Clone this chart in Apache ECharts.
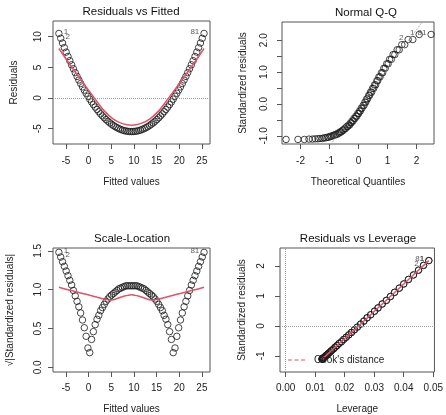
<!DOCTYPE html>
<html>
<head>
<meta charset="utf-8">
<script src="https://cdn.jsdelivr.net/npm/echarts@6/dist/echarts.min.js"></script>
<style>
html, body { margin: 0; padding: 0; background: #fff; }
#main { width: 446px; height: 415px; }
</style>
</head>
<body>
<div id="main"></div>
<script>
var fittedVals = [
  -6.53,-6.13,-5.73,-5.33,-4.93,-4.53,-4.13,-3.73,-3.33,-2.93,
  -2.53,-2.13,-1.73,-1.33,-0.93,-0.53,-0.13,0.27,0.67,1.07,
  1.47,1.87,2.27,2.67,3.07,3.47,3.87,4.27,4.67,5.07,
  5.47,5.87,6.27,6.67,7.07,7.47,7.87,8.27,8.67,9.07,
  9.47,
  9.87,10.27,10.67,11.07,11.47,11.87,12.27,12.67,13.07,13.47,
  13.87,14.27,14.67,15.07,15.47,15.87,16.27,16.67,17.07,17.47,
  17.87,18.27,18.67,19.07,19.47,19.87,20.27,20.67,21.07,21.47,
  21.87,22.27,22.67,23.07,23.47,23.87,24.27,24.67,25.07,25.47
];
var residVals = [
  10.53,9.74,8.97,8.22,7.49,6.78,6.09,5.42,4.77,4.14,
  3.53,2.94,2.37,1.82,1.29,0.78,0.29,-0.18,-0.63,-1.06,
  -1.47,-1.86,-2.23,-2.58,-2.91,-3.22,-3.51,-3.78,-4.03,-4.26,
  -4.47,-4.66,-4.83,-4.98,-5.11,-5.22,-5.31,-5.38,-5.43,-5.46,
  -5.47,
  -5.46,-5.43,-5.38,-5.31,-5.22,-5.11,-4.98,-4.83,-4.66,-4.47,
  -4.26,-4.03,-3.78,-3.51,-3.22,-2.91,-2.58,-2.23,-1.86,-1.47,
  -1.06,-0.63,-0.18,0.29,0.78,1.29,1.82,2.37,2.94,3.53,
  4.14,4.77,5.42,6.09,6.78,7.49,8.22,8.97,9.74,10.53
];
var stdResVals = [
  2.18,2.02,1.86,1.70,1.55,1.40,1.26,1.12,0.98,0.85,
  0.73,0.60,0.49,0.37,0.27,0.16,0.06,-0.04,-0.13,-0.22,
  -0.30,-0.38,-0.45,-0.53,-0.59,-0.66,-0.71,-0.77,-0.82,-0.87,
  -0.91,-0.95,-0.98,-1.01,-1.04,-1.06,-1.08,-1.09,-1.10,-1.11,
  -1.11,
  -1.11,-1.10,-1.09,-1.08,-1.06,-1.04,-1.01,-0.98,-0.95,-0.91,
  -0.87,-0.82,-0.77,-0.71,-0.66,-0.59,-0.53,-0.45,-0.38,-0.30,
  -0.22,-0.13,-0.04,0.06,0.16,0.27,0.37,0.49,0.60,0.73,
  0.85,0.98,1.12,1.26,1.40,1.55,1.70,1.86,2.02,2.18
];
var sqrtAbsStdRes = [
  1.48,1.42,1.36,1.30,1.24,1.18,1.12,1.06,0.99,0.92,
  0.85,0.78,0.70,0.61,0.51,0.40,0.25,0.19,0.36,0.46,
  0.55,0.62,0.67,0.73,0.77,0.81,0.85,0.88,0.91,0.93,
  0.95,0.97,0.99,1.01,1.02,1.03,1.04,1.05,1.05,1.05,
  1.05,
  1.05,1.05,1.05,1.04,1.03,1.02,1.01,0.99,0.97,0.95,
  0.93,0.91,0.88,0.85,0.81,0.77,0.73,0.67,0.62,0.55,
  0.46,0.36,0.19,0.25,0.40,0.51,0.61,0.70,0.78,0.85,
  0.92,0.99,1.06,1.12,1.18,1.24,1.30,1.36,1.42,1.48
];
var leverageVals = [
  0.0485,0.0467,0.0450,0.0433,0.0416,0.0400,0.0385,0.0369,0.0355,0.0341,
  0.0327,0.0313,0.0301,0.0288,0.0276,0.0265,0.0254,0.0243,0.0233,0.0223,
  0.0214,0.0205,0.0197,0.0189,0.0181,0.0174,0.0168,0.0162,0.0156,0.0151,
  0.0146,0.0142,0.0138,0.0135,0.0132,0.0129,0.0127,0.0126,0.0124,0.0124,
  0.0123,
  0.0124,0.0124,0.0126,0.0127,0.0129,0.0132,0.0135,0.0138,0.0142,0.0146,
  0.0151,0.0156,0.0162,0.0168,0.0174,0.0181,0.0189,0.0197,0.0205,0.0214,
  0.0223,0.0233,0.0243,0.0254,0.0265,0.0276,0.0288,0.0301,0.0313,0.0327,
  0.0341,0.0355,0.0369,0.0385,0.0400,0.0416,0.0433,0.0450,0.0467,0.0485
];
var qqTheoretical = [
  -2.50,-2.09,-1.87,-1.71,-1.59,-1.49,-1.40,-1.33,-1.25,-1.19,
  -1.13,-1.07,-1.02,-0.97,-0.92,-0.87,-0.83,-0.79,-0.74,-0.70,
  -0.66,-0.63,-0.59,-0.55,-0.52,-0.48,-0.45,-0.41,-0.38,-0.35,
  -0.31,-0.28,-0.25,-0.22,-0.19,-0.16,-0.12,-0.09,-0.06,-0.03,
  0.00,
  0.03,0.06,0.09,0.12,0.16,0.19,0.22,0.25,0.28,0.31,
  0.35,0.38,0.41,0.45,0.48,0.52,0.55,0.59,0.63,0.66,
  0.70,0.74,0.79,0.83,0.87,0.92,0.97,1.02,1.07,1.13,
  1.19,1.25,1.33,1.40,1.49,1.59,1.71,1.87,2.09,2.50
];
var qqSample = [
  -1.11,-1.11,-1.11,-1.10,-1.10,-1.09,-1.09,-1.08,-1.08,-1.06,
  -1.06,-1.04,-1.04,-1.01,-1.01,-0.98,-0.98,-0.95,-0.95,-0.91,
  -0.91,-0.87,-0.87,-0.82,-0.82,-0.77,-0.77,-0.71,-0.71,-0.66,
  -0.66,-0.59,-0.59,-0.53,-0.53,-0.45,-0.45,-0.38,-0.38,-0.30,
  -0.30,
  -0.22,-0.22,-0.13,-0.13,-0.04,-0.04,0.06,0.06,0.16,0.16,
  0.27,0.27,0.37,0.37,0.49,0.49,0.60,0.60,0.73,0.73,
  0.85,0.85,0.98,0.98,1.12,1.12,1.26,1.26,1.40,1.40,
  1.55,1.55,1.70,1.70,1.86,1.86,2.02,2.02,2.18,2.18
];
// qq reference line (end points in data units)
var qqLineX = [-2.64, 2.60];
var qqLineY = [-3.30, 3.06];

// red smoothers
var smoothFitX = [-6.53,-4.53,-2.53,-0.53,1.47,3.47,5.47,7.47,9.47,11.47,13.47,15.47,17.47,19.47,21.47,23.47,25.47];
var smoothFitY = [8.08,5.92,3.84,1.81,-0.17,-2.09,-3.42,-4.17,-4.42,-4.17,-3.42,-2.09,-0.17,1.81,3.84,5.92,8.08];
var smoothSlX = [-6.53,-4.53,-2.53,-0.53,1.47,3.47,4.67,5.47,7.47,9.47,11.47,13.47,14.27,15.47,17.47,19.47,21.47,23.47,25.47];
var smoothSlY = [1.03,1.00,0.97,0.94,0.91,0.88,0.865,0.87,0.91,0.935,0.91,0.87,0.865,0.88,0.91,0.94,0.97,1.00,1.03];
var smoothLevX = [0.0123,0.0146,0.0181,0.0214,0.0265,0.0327,0.0400,0.0485];
var smoothLevY = [-1.11,-0.91,-0.59,-0.30,0.16,0.73,1.40,2.18];

// labelled observations (index into the arrays), text, side
var idObs = [0, 1, 80];
var idText = ['1', '2', '81'];
var idSide = ['right', 'right', 'left'];
var qqIdIdx = [77, 79, 80];
var qqIdText = ['2', '1', '81'];
var levIdObs = [1, 0, 80];
var levIdText = ['2', '1', '81'];

// tick values
var fitTicks = [-5, 0, 5, 10, 15, 20, 25];
var residTicks = [-5, 0, 5, 10];
var qqXTicks = [-2, -1, 0, 1, 2];
var qqYTicks = [-1, -0.5, 0, 0.5, 1, 1.5, 2];
var qqYLabels = [-1, 0, 1, 2];
var slYTicks = [0, 0.5, 1, 1.5];
var levXTicks = [0, 0.01, 0.02, 0.03, 0.04, 0.05];
var levYTicks = [-1, 0, 1, 2];

var FONT = 'Liberation Sans';
var RED = '#DF536B';
var GREY = '#9E9E9E';
var BOX = '#555';
var TXT = '#222';

function pointData(xs, ys, ids, texts, sides) {
  return xs.map(function (x, i) {
    var item = { value: [x, ys[i]] };
    var k = ids.indexOf(i);
    if (k >= 0) {
      item.label = {
        show: true, formatter: texts[k], position: sides[k], distance: 1,
        offset: [0, -2], fontSize: 8, color: '#333', fontFamily: FONT
      };
    }
    return item;
  });
}

function pairs(xs, ys) {
  return xs.map(function (x, i) { return [x, ys[i]]; });
}

function axis(gi, min, max, ticks, labels, fmt, margin, name, nameGap, isY) {
  return {
    type: 'value', gridIndex: gi, min: min, max: max, scale: true,
    name: name, nameLocation: 'middle', nameGap: nameGap,
    nameTextStyle: { fontSize: 10, color: TXT, fontFamily: FONT },
    axisLine: { show: false, onZero: false },
    axisTick: { show: true, length: 5, customValues: ticks, lineStyle: { color: BOX, width: 1 } },
    axisLabel: {
      customValues: labels, formatter: fmt, margin: margin, rotate: isY ? 90 : 0,
      fontSize: 10, color: TXT, fontFamily: FONT
    },
    splitLine: { show: false }
  };
}

function f0(v) { return String(v); }
function f1(v) { return v.toFixed(1); }
function f2(v) { return v.toFixed(2); }

var circle = { color: 'transparent', borderColor: '#1a1a1a', borderWidth: 1 };
var dotted = { color: GREY, type: 'dotted', width: 1 };
// three short dashes, like R's lty = 2
var dashIcon = 'path://M0,0h4v1h-4z M6.5,0h4v1h-4z M13,0h4v1h-4z';

var chart = echarts.init(document.getElementById('main'), null, { renderer: 'canvas' });
chart.setOption({
  animation: false,
  backgroundColor: '#fff',
  textStyle: { fontFamily: FONT },
  title: [
    { text: 'Residuals vs Fitted', left: 131, top: 6, textAlign: 'center', padding: 0 },
    { text: 'Normal Q-Q', left: 366, top: 7, textAlign: 'center', padding: 0 },
    { text: 'Scale-Location', left: 132, top: 233, textAlign: 'center', padding: 0 },
    { text: 'Residuals vs Leverage', left: 358, top: 233, textAlign: 'center', padding: 0 }
  ].map(function (t) {
    t.textStyle = { fontSize: 11.5, fontWeight: 'normal', color: '#111', fontFamily: FONT };
    return t;
  }),
  legend: {
    data: ["Cook's distance"], left: 288, top: 355, padding: 0,
    icon: dashIcon, itemWidth: 17, itemHeight: 1.2, selectedMode: false,
    itemStyle: { color: RED, borderWidth: 0 },
    textStyle: { fontSize: 10, color: TXT, fontFamily: FONT, padding: [0, 0, 0, 4] }
  },
  grid: [
    { left: 53, top: 21, width: 157, height: 123 },
    { left: 282, top: 22, width: 152, height: 122 },
    { left: 53, top: 248, width: 157, height: 124 },
    { left: 280, top: 248, width: 156, height: 124 }
  ].map(function (g) {
    g.show = true; g.borderColor = BOX; g.borderWidth = 1; g.backgroundColor = 'transparent';
    return g;
  }),
  xAxis: [
    axis(0, -7.83, 26.78, fitTicks, fitTicks, f0, 12, 'Fitted values', 33, false),
    axis(1, -2.64, 2.60, qqXTicks, qqXTicks, f0, 12, 'Theoretical Quantiles', 33, false),
    axis(2, -7.83, 26.78, fitTicks, fitTicks, f0, 11, 'Fitted values', 32, false),
    axis(3, -0.0019, 0.0504, levXTicks, levXTicks, f2, 11, 'Leverage', 32, false)
  ],
  yAxis: [
    axis(0, -7.49, 12.56, residTicks, residTicks, f0, 10, 'Residuals', 34, true),
    axis(1, -1.253, 2.57, qqYTicks, qqYLabels, f1, 13, 'Standardized residuals', 34, true),
    axis(2, -0.059, 1.536, slYTicks, slYTicks, f1, 10, '\u221A|Standardized residuals|', 38, true),
    axis(3, -1.54, 2.6, levYTicks, levYTicks, f0, 14, 'Standardized residuals', 33, true)
  ],
  series: [
    // Residuals vs Fitted
    {
      type: 'scatter', xAxisIndex: 0, yAxisIndex: 0, symbol: 'circle', symbolSize: 6.5,
      itemStyle: circle, data: pointData(fittedVals, residVals, idObs, idText, idSide),
      markLine: { silent: true, symbol: 'none', label: { show: false }, lineStyle: dotted, data: [{ yAxis: 0 }] }
    },
    {
      type: 'line', xAxisIndex: 0, yAxisIndex: 0, symbol: 'none', smooth: 0.4, z: 3,
      lineStyle: { color: RED, width: 1.5 }, data: pairs(smoothFitX, smoothFitY)
    },
    // Normal Q-Q
    {
      type: 'line', xAxisIndex: 1, yAxisIndex: 1, symbol: 'none', clip: true,
      lineStyle: dotted, data: pairs(qqLineX, qqLineY)
    },
    {
      type: 'scatter', xAxisIndex: 1, yAxisIndex: 1, symbol: 'circle', symbolSize: 6.5,
      itemStyle: circle,
      data: pointData(qqTheoretical, qqSample, qqIdIdx, qqIdText, ['left', 'left', 'left'])
    },
    // Scale-Location
    {
      type: 'scatter', xAxisIndex: 2, yAxisIndex: 2, symbol: 'circle', symbolSize: 6.5,
      itemStyle: circle, data: pointData(fittedVals, sqrtAbsStdRes, idObs, idText, idSide)
    },
    {
      type: 'line', xAxisIndex: 2, yAxisIndex: 2, symbol: 'none', smooth: 0.3, z: 3,
      lineStyle: { color: RED, width: 1.5 }, data: pairs(smoothSlX, smoothSlY)
    },
    // Residuals vs Leverage
    {
      type: 'scatter', xAxisIndex: 3, yAxisIndex: 3, symbol: 'circle', symbolSize: 6.5,
      itemStyle: circle,
      data: pointData(leverageVals, stdResVals, levIdObs, levIdText, ['left', 'left', 'left']),
      markLine: {
        silent: true, symbol: 'none', label: { show: false }, lineStyle: dotted,
        data: [{ yAxis: 0 }, { xAxis: 0 }]
      }
    },
    {
      type: 'line', xAxisIndex: 3, yAxisIndex: 3, symbol: 'none', smooth: 0.3, z: 3,
      lineStyle: { color: RED, width: 1.5 }, data: pairs(smoothLevX, smoothLevY)
    },
    {
      name: "Cook's distance", type: 'line', xAxisIndex: 3, yAxisIndex: 3, symbol: 'none',
      data: [], lineStyle: { color: RED, type: 'dashed', width: 1 }, itemStyle: { color: RED }
    }
  ]
});
</script>
</body>
</html>
